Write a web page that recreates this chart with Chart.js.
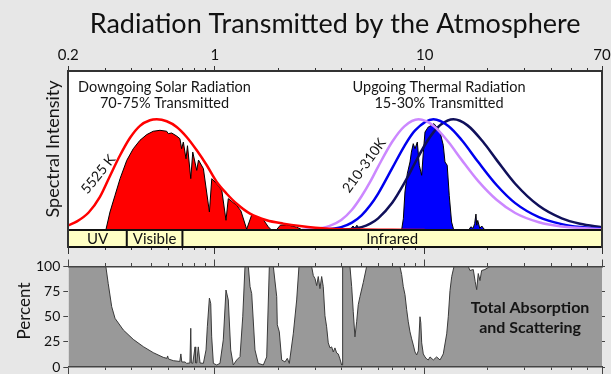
<!DOCTYPE html>
<html>
<head>
<meta charset="utf-8">
<title>Radiation Transmitted by the Atmosphere</title>
<script src="https://cdn.jsdelivr.net/npm/chart.js@4.4.1/dist/chart.umd.min.js"></script>
<style>
  html, body { margin: 0; padding: 0; background: #e7e7e7; overflow: hidden; }
  #wrap { position: relative; width: 611px; height: 374px; }
  canvas { position: absolute; left: 0; }
  #top { top: 0; }
  #bottom { top: 252px; }
</style>
</head>
<body>
<div id="wrap">
  <canvas id="top" width="611" height="256"></canvas>
  <canvas id="bottom" width="611" height="124"></canvas>
</div>
<script>
// wavelength axis, micrometres
const wavelengthTicks = [0.2, 0.3, 0.4, 0.5, 0.6, 0.7, 0.8, 0.9, 1, 2, 3, 4, 5, 6, 7, 8, 9, 10, 20, 30, 40, 50, 60, 70];
const majorTicks = [0.2, 1, 10, 70];
const percentTicks = [0, 25, 50, 75, 100];
const bandEdges = [0.2, 0.38, 0.7, 70];
const bandNames = ["UV", "Visible", "Infrared"];

// blackbody curves (spectral intensity, plot top = 100)
const bb5525_um = [0.2, 0.22, 0.25, 0.283, 0.316, 0.353, 0.394, 0.439, 0.49, 0.528, 0.589, 0.657, 0.733, 0.819, 0.914, 1.02, 1.138, 1.27, 1.47, 1.765, 2.118, 2.543, 3.5, 5, 7, 10];
const bb5525 = [2.9, 5.4, 11, 20.8, 34, 47, 58, 65.5, 69, 69.6, 68.4, 64.8, 58.5, 50.1, 40.7, 30.2, 22.8, 16.5, 10.3, 6.1, 4, 2.5, 0.8, 0.25, 0.1, 0.05];

const bb310_um = [2.6, 3, 3.5, 4, 4.5, 5, 5.5, 6, 7, 8, 9.35, 11, 13, 15, 18, 22, 27, 35, 45, 70];
const bb310 = [0.15, 0.6, 2.4, 6.3, 12.7, 21.2, 30.4, 39.9, 55.5, 65.2, 69.6, 65.6, 55.2, 44.1, 30.7, 19, 10.7, 4.9, 2.2, 0.5];

const bb260_um = [3, 3.5, 4, 4.5, 5, 5.5, 6, 7, 8, 9, 11, 13, 15, 18, 22, 27, 35, 45, 55, 70];
const bb260 = [0.1, 0.5, 1.8, 4.6, 9.2, 15.5, 22.9, 38.9, 52.8, 62.6, 69.6, 65.3, 56.6, 42.7, 28.3, 16.9, 8.1, 3.7, 1.9, 0.8];

const bb210_um = [4, 4.5, 5, 5.5, 6, 7, 8, 9, 10, 11, 12, 13.7, 16, 19, 22, 27, 35, 45, 55, 70];
const bb210 = [0.2, 0.7, 1.8, 4, 7.3, 17.1, 29.6, 42.3, 53.3, 61.4, 66.5, 69.6, 65.8, 55.3, 44.1, 29.1, 15.2, 7.3, 3.9, 1.7];

// sunlight reaching the ground
const solar_um = [0.2, 0.302, 0.316, 0.334, 0.353, 0.38, 0.408, 0.439, 0.473, 0.508, 0.547, 0.589, 0.599, 0.622, 0.657, 0.681, 0.694, 0.707, 0.728, 0.74, 0.767, 0.784, 0.819, 0.835, 0.881, 0.941, 0.966, 1.02, 1.078, 1.129, 1.158, 1.27, 1.33, 1.417, 1.497, 1.701, 1.796, 1.85, 1.97, 2.05, 2.2, 2.45, 2.6, 2.9, 3.4, 3.9, 4.1, 70];
const solarIn = [0, 0, 11.3, 21.8, 32.3, 43.8, 51.1, 56.4, 60, 62.1, 62.7, 62.1, 60.6, 61, 59.1, 57.4, 51.1, 55.3, 44.8, 53, 32.3, 49, 37.5, 44, 38.6, 11.3, 32.3, 29, 25, 6.1, 19.7, 15.5, 12, 0.5, 9.5, 6.5, 2, 0.3, 0.3, 3, 3.3, 1.8, 0.2, 0, 0.4, 0.3, 0, 0];

// thermal radiation escaping to space
const thermal_um = [2.5, 4.4, 4.55, 4.65, 4.75, 4.85, 5.0, 7.76, 7.91, 8.05, 8.26, 8.51, 8.64, 8.82, 8.99, 9.22, 9.42, 9.67, 9.85, 10.03, 10.4, 10.79, 11.07, 11.4, 11.83, 12.26, 12.49, 12.8, 13.09, 13.43, 13.75, 16.2, 16.6, 17.0, 17.3, 17.55, 17.7, 17.9, 18.3, 18.7, 19.2, 19.6, 70];
const thermalOut = [0, 0, 2.5, 1.2, 3, 1, 0, 0, 7.1, 23.9, 35.4, 42.8, 49, 54.3, 51.1, 55.3, 40.7, 34.4, 49, 61.6, 64.8, 65.8, 66.9, 64.8, 61.6, 53.3, 42.8, 40.7, 21.8, 5, 0, 0, 2, 1, 4, 10, 3, 6, 1, 2.5, 0.5, 0, 0];

// total absorption and scattering, percent
const absorb_um = [0.2, 0.302, 0.31, 0.322, 0.334, 0.366, 0.408, 0.456, 0.508, 0.567,
  0.59, 0.595, 0.6, 0.633, 0.68, 0.688, 0.695, 0.72, 0.733, 0.76,
  0.767, 0.772, 0.784, 0.804, 0.81, 0.819, 0.833, 0.849, 0.881, 0.907,
  0.92, 0.941, 0.955, 0.965, 0.983, 1.02, 1.057, 1.096, 1.129, 1.158,
  1.189, 1.223, 1.27, 1.317, 1.357, 1.391, 1.443, 1.47, 1.497, 1.552,
  1.609, 1.701, 1.765, 1.817, 1.898, 1.97, 1.983, 2.027, 2.081, 2.157,
  2.213, 2.262, 2.363, 2.453, 2.515, 2.891, 2.944, 2.999, 3.055, 3.109,
  3.167, 3.227, 3.284, 3.346, 3.408, 3.469, 3.535, 3.601, 3.665, 3.733,
  3.804, 3.871, 3.944, 4.018, 4.04, 4.062, 4.402, 4.485, 4.564, 4.65,
  4.738, 4.822, 4.913, 5.094, 5.287, 7.62, 7.764, 7.903, 8.052, 8.204,
  8.349, 8.506, 8.666, 8.82, 8.986, 9.155, 9.32, 9.495, 9.58, 9.674,
  9.845, 10.03, 10.22, 10.4, 10.6, 10.99, 11.4, 11.83, 12.26, 12.73,
  12.95, 13.2, 13.45, 13.79, 16.13, 16.43, 17.04, 17.4, 17.69, 18.0,
  18.34, 18.68, 19.37, 20.09, 20.47, 70];
const absorbPct = [100, 100, 83, 60, 48.4, 36.8, 27.5, 20.2, 14.3, 9.6,
  8.6, 11, 8, 6.3, 5.5, 13, 5, 5, 3.6, 4,
  38.5, 4, 3.6, 20, 4, 4, 20, 4, 3.6, 17,
  40, 68.6, 63, 30, 3.6, 2, 3.6, 27, 76.6, 66.7,
  17, 2, 7, 10.3, 50, 100, 100, 80, 73, 17,
  3.6, 2, 10, 100, 100, 70, 42, 35, 7, 5,
  8.6, 3.6, 33, 66.7, 100, 100, 91, 88, 81, 90,
  78, 90, 80, 51, 40, 24, 19, 20, 15, 19,
  14, 13, 8, 2, 2, 100, 100, 80, 55, 30,
  45, 62, 70, 84, 100, 100, 92, 80, 72, 57,
  45, 35, 28, 22, 15, 12, 16, 50, 44, 24,
  13, 10, 8, 7, 10, 7, 10, 7, 13, 33,
  50, 76, 90, 100, 100, 96, 97, 85, 77, 93,
  86, 96, 97, 99, 100, 100];

function pts(xs, ys) {
  return xs.map((x, i) => ({ x: x, y: ys[i] }));
}

function curve(xs, ys, color) {
  return { data: pts(xs, ys), borderColor: color, borderWidth: 2.5, pointRadius: 0, fill: false, cubicInterpolationMode: "monotone", order: 0 };
}

function filled(xs, ys, color, line) {
  return { data: pts(xs, ys), borderColor: line, borderWidth: 1, backgroundColor: color, fill: { value: 0 }, pointRadius: 0, tension: 0, order: 1 };
}

Chart.defaults.font.family = "Lato, 'Open Sans', sans-serif";
Chart.defaults.color = "#111";
Chart.defaults.animation = false;

function setTicks(scale) {
  scale.ticks = wavelengthTicks.map((v) => ({ value: v }));
}

// minor ticks are drawn shorter with a dash pattern
function tickDash(pattern) {
  return (c) => (c.tick && majorTicks.includes(c.tick.value) ? [] : pattern);
}

function waveAxis(position, extra) {
  return Object.assign({
    type: "logarithmic",
    position: position,
    min: 0.2,
    max: 70,
    afterBuildTicks: setTicks,
    ticks: { display: false, autoSkip: false, maxRotation: 0 },
    grid: { drawOnChartArea: false, color: "#333", lineWidth: 1 },
    border: { color: "#333", width: 2, z: 1 },
  }, extra);
}

const whiteArea = {
  id: "whiteArea",
  beforeDraw(chart) {
    const a = chart.chartArea;
    const ctx = chart.ctx;
    ctx.save();
    ctx.fillStyle = "#fff";
    ctx.fillRect(a.left, a.top, a.right - a.left, a.bottom - a.top);
    ctx.restore();
  },
};

const bandBar = {
  id: "bandBar",
  afterDatasetsDraw(chart) {
    const ctx = chart.ctx;
    const x = chart.scales.x;
    const y = chart.scales.y;
    const y0 = y.getPixelForValue(0);
    const y1 = y.getPixelForValue(y.min);
    ctx.save();
    ctx.fillStyle = "#ffffc4";
    ctx.fillRect(x.left, y0, x.right - x.left, y1 - y0);
    ctx.strokeStyle = "#111";
    ctx.lineWidth = 2;
    ctx.beginPath();
    ctx.moveTo(x.left, y0);
    ctx.lineTo(x.right, y0);
    bandEdges.slice(1, -1).forEach((v) => {
      const px = x.getPixelForValue(v);
      ctx.moveTo(px, y0);
      ctx.lineTo(px, y1);
    });
    ctx.stroke();
    ctx.fillStyle = "#111";
    ctx.font = "15px Lato";
    ctx.textAlign = "center";
    ctx.textBaseline = "middle";
    bandNames.forEach((name, i) => {
      const a = x.getPixelForValue(bandEdges[i]);
      const b = x.getPixelForValue(bandEdges[i + 1]);
      ctx.fillText(name, (a + b) / 2, (y0 + y1) / 2 + 1);
    });
    ctx.restore();
  },
};

function notesPlugin(items) {
  return {
    id: "notes",
    afterDraw(chart) {
      const ctx = chart.ctx;
      items.forEach((n) => {
        const px = n.px !== undefined ? n.px : chart.scales.x.getPixelForValue(n.x);
        const py = n.py !== undefined ? n.py : chart.scales.y.getPixelForValue(n.y);
        ctx.save();
        ctx.translate(px, py);
        ctx.rotate(((n.rot || 0) * Math.PI) / 180);
        ctx.font = n.font;
        ctx.fillStyle = "#151515";
        ctx.textAlign = "center";
        ctx.textBaseline = "middle";
        ctx.fillText(n.text, 0, 0);
        ctx.restore();
      });
    },
  };
}

const topNotes = [
  { text: "Downgoing Solar Radiation", x: 0.575, y: 89.5, font: "14.5px Lato" },
  { text: "70-75% Transmitted", x: 0.575, y: 79.7, font: "14.5px Lato" },
  { text: "Upgoing Thermal Radiation", x: 11.7, y: 89.5, font: "14.5px Lato" },
  { text: "15-30% Transmitted", x: 11.7, y: 79.7, font: "14.5px Lato" },
  { text: "5525 K", x: 0.278, y: 35, rot: -51, font: "14px Lato" },
  { text: "210-310K", x: 5.15, y: 40.5, rot: -54, font: "14px Lato" },
  { text: "Spectral Intensity", px: 53, py: 149, rot: -90, font: "18px Lato" },
];

const bottomNotes = [
  { text: "Total Absorption", x: 31.8, y: 58.4, font: "bold 16px Lato" },
  { text: "and Scattering", x: 31.8, y: 38.5, font: "bold 16px Lato" },
  { text: "Percent", px: 24.2, py: 59, rot: -90, font: "17px Lato" },
];

new Chart(document.getElementById("top"), {
  type: "line",
  data: {
    datasets: [
      curve(bb5525_um, bb5525, "#ff0000"),
      curve(bb310_um, bb310, "#cc88ff"),
      curve(bb260_um, bb260, "#0000ee"),
      curve(bb210_um, bb210, "#10105a"),
      filled(solar_um, solarIn, "#ff0000", "#000"),
      filled(thermal_um, thermalOut, "#0000ff", "#000"),
    ],
  },
  options: {
    responsive: false,
    animation: false,
    layout: { padding: { left: 0, right: 9, top: 0, bottom: 0 } },
    plugins: {
      legend: { display: false },
      tooltip: { enabled: false },
      title: {
        display: true,
        text: "Radiation Transmitted by the Atmosphere",
        fullSize: false,
        color: "#111",
        font: { size: 27, weight: "normal" },
        padding: { top: 8, bottom: 2 },
      },
    },
    scales: {
      x: waveAxis("top", {
        ticks: {
          display: true, autoSkip: false, maxRotation: 0, padding: 2, font: { size: 15 },
          callback: (v) => (majorTicks.includes(v) ? String(v) : ""),
        },
        grid: { drawOnChartArea: false, color: "#333", lineWidth: 1, tickLength: 5, tickBorderDash: tickDash([0, 2, 2, 100]) },
        afterFit(s) { s.height = 28.6; s.paddingLeft = 0; s.paddingRight = 0; },
      }),
      x2: waveAxis("bottom", {
        grid: { drawOnChartArea: false, color: "#333", lineWidth: 1, tickLength: 7, tickBorderDash: tickDash([2, 100]) },
        border: { color: "#111", width: 2, z: 1 },
        afterFit(s) { s.height = 9; },
      }),
      y: {
        type: "linear", position: "left", min: -10.7, max: 100,
        ticks: { display: false },
        grid: { display: false, drawTicks: false },
        border: { color: "#333", width: 2, z: 1 },
        afterFit(s) { s.width = 68.3; s.paddingTop = 0; s.paddingBottom = 0; },
      },
      y2: {
        type: "linear", position: "right", min: -10.7, max: 100,
        ticks: { display: false },
        grid: { display: false, drawTicks: false },
        border: { color: "#333", width: 2, z: 1 },
        afterFit(s) { s.width = 0; },
      },
    },
  },
  plugins: [whiteArea, bandBar, notesPlugin(topNotes)],
});

new Chart(document.getElementById("bottom"), {
  type: "line",
  data: {
    datasets: [filled(absorb_um, absorbPct, "#999999", "#3a3a3a")],
  },
  options: {
    responsive: false,
    animation: false,
    layout: { padding: { left: 0, right: 9, top: 0, bottom: 0 } },
    plugins: { legend: { display: false }, tooltip: { enabled: false } },
    scales: {
      x: waveAxis("top", {
        grid: { drawOnChartArea: false, color: "#444", lineWidth: 1, tickLength: 7, tickBorderDash: tickDash([0, 3.5, 3, 100]) },
        border: { color: "#444", width: 1.5, z: 1 },
        afterFit(s) { s.height = 14.5; s.paddingLeft = 0; s.paddingRight = 0; },
      }),
      x2: waveAxis("bottom", {
        grid: { drawOnChartArea: false, color: "#444", lineWidth: 1, tickLength: 7, tickBorderDash: tickDash([2.5, 100]) },
        border: { color: "#444", width: 1.5, z: 1 },
        afterFit(s) { s.height = 9; },
      }),
      y: {
        type: "linear", position: "left", min: 0, max: 100,
        afterBuildTicks: (s) => { s.ticks = percentTicks.map((v) => ({ value: v })); },
        ticks: { padding: 3, font: { size: 14 }, color: "#111" },
        grid: { drawOnChartArea: false, color: "#444", tickLength: 5 },
        border: { display: false },
        afterFit(s) { s.width = 68.3; s.paddingTop = 0; s.paddingBottom = 0; },
      },
      y2: {
        type: "linear", position: "right", min: 0, max: 100,
        afterBuildTicks: (s) => { s.ticks = percentTicks.map((v) => ({ value: v })); },
        ticks: { display: false },
        grid: { drawOnChartArea: false, color: "#444", tickLength: 3 },
        border: { display: false },
        afterFit(s) { s.width = 0; },
      },
    },
  },
  plugins: [whiteArea, notesPlugin(bottomNotes)],
});
</script>
</body>
</html>
